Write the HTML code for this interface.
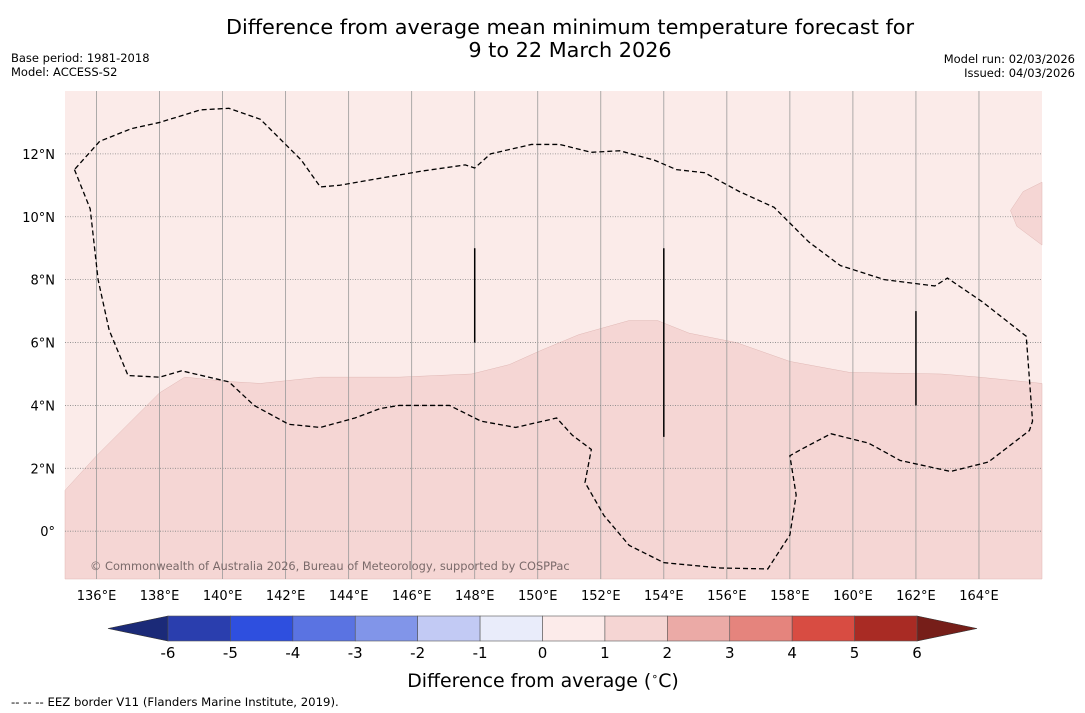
<!DOCTYPE html>
<html><head><meta charset="utf-8"><style>
body{margin:0;background:#fff;width:1085px;height:713px;overflow:hidden;font-family:"Liberation Sans","DejaVu Sans",sans-serif}
svg{display:block}
</style></head><body>
<svg id="s" width="1085" height="713" font-family="DejaVu Sans, Liberation Sans, sans-serif">
<text x="570" y="34" font-size="20.8" text-anchor="middle">Difference from average mean minimum temperature forecast for</text>
<text x="570" y="57" font-size="20.8" text-anchor="middle">9 to 22 March 2026</text>
<text x="11" y="62" font-size="11.5">Base period: 1981-2018</text>
<text x="11" y="76" font-size="11.5">Model: ACCESS-S2</text>
<text x="1075" y="63" font-size="11.5" text-anchor="end">Model run: 02/03/2026</text>
<text x="1075" y="77" font-size="11.5" text-anchor="end">Issued: 04/03/2026</text>
<g id="map"></g>
<g id="cb"></g>
<text x="543" y="687" font-size="18.9" text-anchor="middle">Difference from average (<tspan font-size="11" dy="-7">∘</tspan><tspan dy="7">C)</tspan></text>
<text x="11" y="706" font-size="11.7">-- -- -- EEZ border V11 (Flanders Marine Institute, 2019).</text>
</svg>
<script>
const lonMin=135,lonMax=166,latMin=-1.52,latMax=14;
const X0=65,X1=1042,Y0=91,Y1=579;
const lonTicks=[136,138,140,142,144,146,148,150,152,154,156,158,160,162,164];
const latTicks=[0,2,4,6,8,10,12];
const anomalyBoundary=[[135,1.3],[136,2.4],[137.1,3.5],[138,4.4],[138.8,4.9],[140.2,4.76],[141.2,4.7],[143.1,4.9],[145.6,4.9],[147.9,5.0],[149.1,5.3],[150.1,5.75],[151.3,6.25],[152.9,6.7],[153.8,6.7],[154.8,6.3],[156.3,6.0],[158,5.4],[159.9,5.05],[162.8,5.0],[164,4.9],[166,4.7]];
const anomalyPatch=[[166,11.1],[165.4,10.8],[165,10.2],[165.2,9.7],[166,9.1]];
const eez=[[135.3,11.5],[135.8,10.25],[136.05,8],[136.4,6.4],[137,4.95],[138,4.9],[138.7,5.1],[140.2,4.75],[141,4],[142.1,3.4],[143.1,3.3],[144.2,3.6],[145,3.9],[145.6,4.0],[147.2,4.0],[148.2,3.5],[149.3,3.3],[150.6,3.6],[151.1,3.05],[151.7,2.6],[151.5,1.55],[152.1,0.5],[152.9,-0.45],[154,-1.0],[155.8,-1.17],[157.3,-1.2],[158,-0.12],[158.2,1.15],[158,2.4],[158.3,2.57],[159.3,3.1],[160.5,2.8],[161.5,2.25],[163.1,1.9],[164.3,2.2],[165.6,3.2],[165.7,3.5],[165.5,6.2],[164.1,7.3],[163,8.05],[162.6,7.8],[161,8],[159.6,8.45],[158.6,9.2],[157.5,10.3],[156.4,10.8],[155.3,11.4],[154.4,11.5],[153.7,11.8],[152.6,12.1],[151.7,12.05],[150.7,12.3],[149.8,12.3],[148.5,12.0],[148,11.55],[147.7,11.65],[146.3,11.45],[143.7,11],[143.1,10.95],[142.5,11.8],[141.2,13.1],[140.2,13.45],[139.3,13.4],[138,13],[137.1,12.8],[136.1,12.4],[135.3,11.5]];
const segLon=[148,154,162],segLat0=[6,3,4],segLat1=[9,9,7];
const cbLevels=[-6,-5,-4,-3,-2,-1,0,1,2,3,4,5,6];
const cbColors=['#2a3eae','#2e4fdf','#5a73e2','#8195e9','#c2caf4','#e9ecfa','#fcebea','#f5d5d3','#ebaaa6','#e5847d','#d84c42','#a92b24'];
const NS='http://www.w3.org/2000/svg';
const px=l=>X0+(l-lonMin)/(lonMax-lonMin)*(X1-X0);
const py=l=>Y0+(latMax-l)/(latMax-latMin)*(Y1-Y0);
function mk(t,a,p){const e=document.createElementNS(NS,t);for(const k in a)e.setAttribute(k,a[k]);p.appendChild(e);return e;}
const map=document.getElementById('map'),cb=document.getElementById('cb');
let r=mk('rect',{x:X0,y:Y0,width:X1-X0,height:Y1-Y0,fill:'#fbebe9'},map);

let d='M'+anomalyBoundary.map(p=>px(p[0])+','+py(p[1])).join('L')+'L'+X1+','+Y1+'L'+X0+','+Y1+'Z';
let a=mk('path',{d:d,fill:'#f5d6d4',stroke:'#e0b8b5','stroke-width':0.5},map);

a=mk('path',{d:'M'+anomalyPatch.map(p=>px(p[0])+','+py(p[1])).join('L')+'Z',fill:'#f5d6d4',stroke:'#e0b8b5','stroke-width':0.5},map);

lonTicks.forEach(l=>{const x=px(l);
 let g=mk('line',{x1:x,x2:x,y1:Y0,y2:Y1,stroke:'#999','stroke-width':0.8},map);
 
 let t=mk('text',{x:x,y:600,'font-size':13,'text-anchor':'middle'},map);t.textContent=l+'°E';
 });
latTicks.forEach(l=>{const y=py(l);
 let g=mk('line',{x1:X0,x2:X1,y1:y,y2:y,stroke:'#888','stroke-width':0.8,'stroke-dasharray':'1,1.5'},map);
 
 let t=mk('text',{x:55,y:y+5,'font-size':13,'text-anchor':'end'},map);t.textContent=l===0?'0°':l+'°N';
 });
let e=mk('path',{d:'M'+eez.map(p=>px(p[0])+','+py(p[1])).join('L'),fill:'none',stroke:'#000','stroke-width':1.3,'stroke-dasharray':'5,3'},map);

segLon.forEach((l,i)=>{let s=mk('line',{x1:px(l),x2:px(l),y1:py(segLat0[i]),y2:py(segLat1[i]),stroke:'#000','stroke-width':1.5},map);
 });
let c=mk('text',{x:90,y:570,'font-size':11.4,fill:'#7a6a6a'},map);c.textContent='© Commonwealth of Australia 2026, Bureau of Meteorology, supported by COSPPac';

const CX0=168,CX1=917,CY=616,CH=25,bw=(CX1-CX0)/cbColors.length;
let t1=mk('path',{d:`M${CX0},${CY}L108,${CY+CH/2}L${CX0},${CY+CH}Z`,fill:'#1b2a78',stroke:'#333','stroke-width':0.6},cb);

let t2=mk('path',{d:`M${CX1},${CY}L977,${CY+CH/2}L${CX1},${CY+CH}Z`,fill:'#761e19',stroke:'#333','stroke-width':0.6},cb);

cbColors.forEach((col,i)=>{let b=mk('rect',{x:CX0+i*bw,y:CY,width:bw,height:CH,fill:col,stroke:'#555','stroke-width':0.6},cb);
 });
cbLevels.forEach((v,i)=>{let t=mk('text',{x:CX0+i*bw,y:658,'font-size':15,'text-anchor':'middle'},cb);t.textContent=v;
 });
</script>
</body></html>
